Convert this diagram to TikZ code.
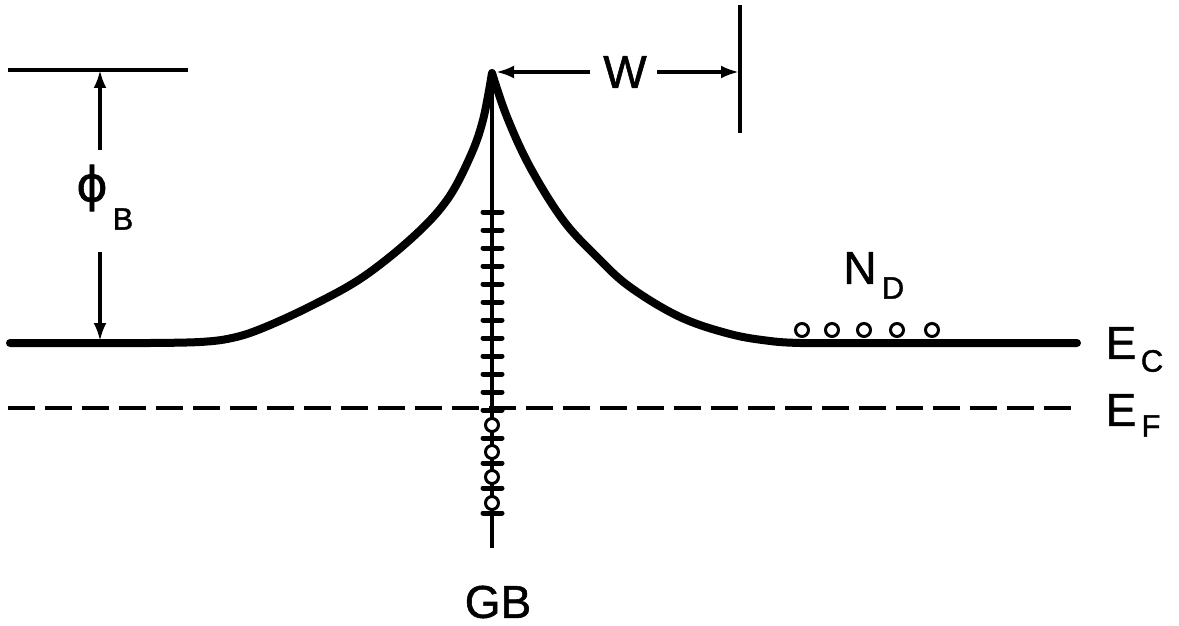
\documentclass[tikz,border=0pt]{standalone}
\usepackage{fontspec}
\setmainfont{Liberation Sans}[FakeBold=1.2]
\newfontfamily\symfont{DejaVu Sans}[FakeBold=1.2]
\usetikzlibrary{arrows.meta}
\begin{document}
\begin{tikzpicture}[x=1pt,y=-1pt,
  thinline/.style={line width=3.5pt},
  band/.style={line width=8pt, line cap=round, line join=round},
  fermi/.style={line width=3.5pt, dash pattern=on 27pt off 10pt},
  arr/.style={line width=3.5pt, -{Latex[length=18pt,width=13pt]}},
  gbtick/.style={line width=5pt, line cap=round},
  lbl/.style={font=\fontsize{46}{46}\selectfont, inner sep=0pt},
  sublbl/.style={font=\fontsize{31}{31}\selectfont, inner sep=0pt},
  donor/.style={circle, draw, line width=3pt, fill=white, minimum size=13pt, inner sep=0pt}]
\useasboundingbox (0,0) rectangle (1179,626);

% reference lines
\draw[thinline] (8,70) -- (188,70);
\draw[thinline] (740,5) -- (740,133);

% conduction band
\draw[band] (10,343) -- plot[smooth, tension=0.6] coordinates {(150,343) (200,342) (232,338) (263,328) (313,305) (363,277) (413,237) (447,200) (470,157) (483,120) (492,73)}
  -- plot[smooth, tension=0.6] coordinates {(492,73) (507,117) (530,167) (563,220) (597,257) (630,287) (680,317) (730,334) (770,341) (800,343) (830,343)}
  -- (1077,343);

% Fermi level
\draw[fermi] (8,408) -- (1077,408);

% grain boundary
\coordinate (gbtop) at (492,78);
\coordinate (gbbot) at (492,548);
\draw[line width=3.5pt] (gbtop) -- (gbbot);
\foreach \k in {0,...,11} {
  \draw[gbtick] (483,212+18*\k) -- (502,212+18*\k);
}
\foreach \yy in {438,463,488,513} {
  \draw[gbtick] (483,\yy) -- (502,\yy);
}
\foreach \yy/\n in {425/1,452/2,477/3,503/4} {
  \node[donor] (gbs\n) at (492,\yy) {};
}

% donors
\foreach \xx/\n in {802/1,832/2,864/3,897/4,932/5} {
  \node[donor] (nd\n) at (\xx,330) {};
}

% phi_B arrows
\coordinate (phitop) at (100,70);
\coordinate (phibot) at (100,341);
\coordinate (phiup) at (100,150);
\coordinate (phidn) at (100,252);
\draw[arr] (phiup) -- (phitop);
\draw[arr] (phidn) -- (phibot);
\node[lbl, font=\symfont\fontsize{48}{48}\selectfont] (phi) at (92,188) {ϕ};
\node[sublbl] (phiB) at (123,219) {B};

% W arrows
\coordinate (wpeak) at (496,72);
\coordinate (wline) at (739,72);
\node[lbl] (W) at (625,72) {W};
\draw[arr] (590,72) -- (wpeak);
\draw[arr] (657,72) -- (wline);

% labels
\node[lbl] (Ec) at (1121,343) {E};
\node[sublbl] (EcC) at (1152,361) {C};
\node[lbl] (Ef) at (1121,410) {E};
\node[sublbl] (EfF) at (1151,426) {F};
\node[lbl] (N) at (860,268) {N};
\node[sublbl] (ND) at (893,288) {D};
\node[lbl] (GB) at (498,602) {GB};
\end{tikzpicture}
\end{document}
